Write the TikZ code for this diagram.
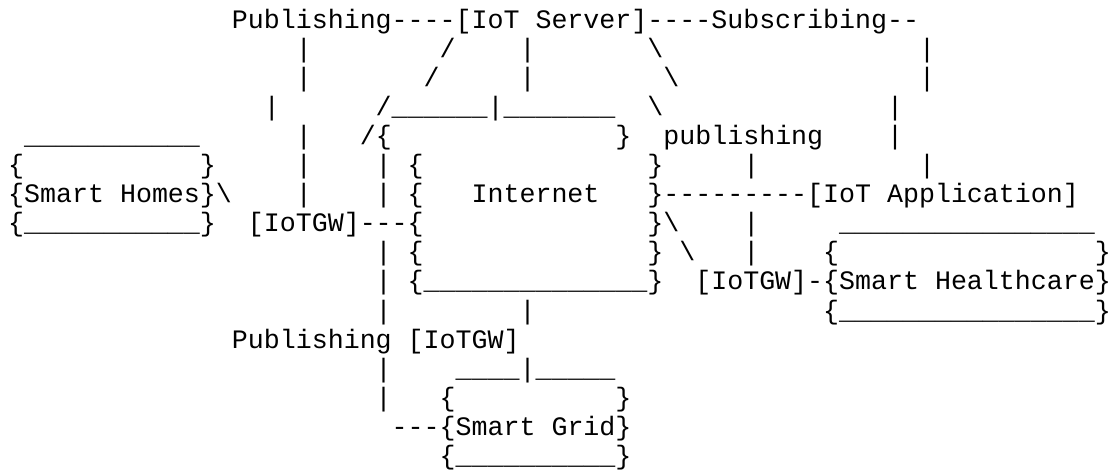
\documentclass[tikz,border=0pt]{standalone}
\usepackage{fontspec}
\setmonofont{Liberation Mono}
\newcommand\sk[1]{\hspace*{#1\dimexpr0.6em\relax}}
\newcommand\us[1]{\foreach\i in {1,...,#1}{\_}}
\begin{document}
\begin{tikzpicture}[
x = 15.98pt, y = -29.1pt,
      row/.style = {anchor=base west, inner sep=0pt, outer sep=0pt,
                    font=\ttfamily\fontsize{26.633pt}{29.1pt}\selectfont}
                   ]
\useasboundingbox (-8.2pt,28pt) rectangle ++(1111pt,-472pt);

\node[row] (r0)  at (14,0)  {Publishing----[IoT~Server]----Subscribing--};
\node[row] (r1)  at (18,1)  {|\sk{8}/\sk{4}|\sk{7}\textbackslash\sk{16}|};
\node[row] (r2)  at (18,2)  {|\sk{7}/\sk{5}|\sk{8}\textbackslash\sk{15}|};
\node[row] (r3)  at (16,3)  {|\sk{6}/\us{6}|\us{7}\sk{2}\textbackslash\sk{14}|};
\node[row] (r4)  at (1,4)   {\us{11}\sk{6}|\sk{3}/\{\sk{14}\}\sk{2}publishing\sk{4}|};
\node[row] (r5)  at (0,5)   {\{\sk{11}\}\sk{5}|\sk{4}|\sk{1}\{\sk{14}\}\sk{5}|\sk{10}|};
\node[row] (r6)  at (0,6)   {\{Smart~Homes\}\textbackslash\sk{4}|\sk{4}|\sk{1}\{\sk{3}Internet\sk{3}\}---------[IoT~Application]};
\node[row] (r7)  at (0,7)   {\{\us{11}\}\sk{2}[IoTGW]---\{\sk{14}\}\textbackslash\sk{4}|\sk{5}\us{16}};
\node[row] (r8)  at (23,8)  {|\sk{1}\{\sk{14}\}\sk{1}\textbackslash\sk{3}|\sk{4}\{\sk{16}\}};
\node[row] (r9)  at (23,9)  {|\sk{1}\{\us{14}\}\sk{2}[IoTGW]-\{Smart~Healthcare\}};
\node[row] (r10) at (23,10) {|\sk{8}|\sk{18}\{\us{16}\}};
\node[row] (r11) at (14,11) {Publishing~[IoTGW]};
\node[row] (r12) at (23,12) {|\sk{4}\us{4}|\us{5}};
\node[row] (r13) at (23,13) {|\sk{3}\{\sk{10}\}};
\node[row] (r14) at (24,14) {---\{Smart~Grid\}};
\node[row] (r15) at (27,15) {\{\us{10}\}};
\end{tikzpicture}
\end{document}
